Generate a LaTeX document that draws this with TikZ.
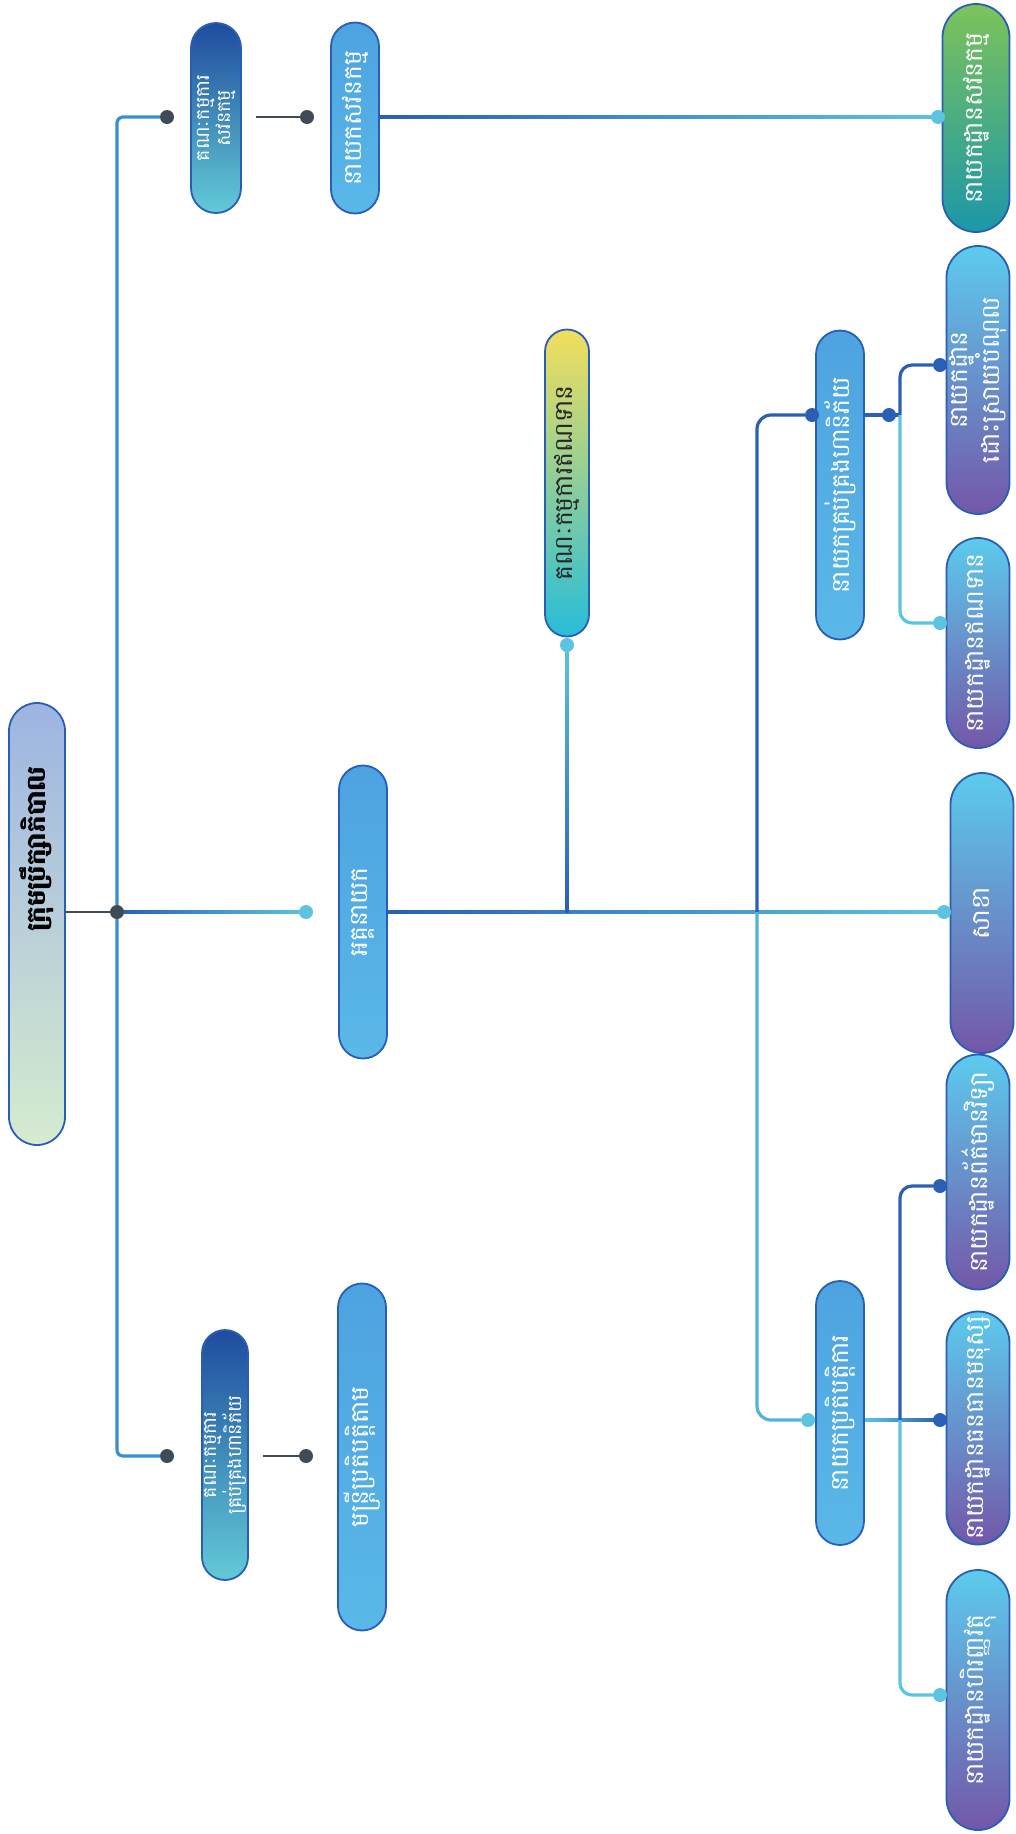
\documentclass[tikz,border=0pt]{standalone}
\usepackage{fontspec}
\usepackage{graphicx}
\newfontfamily\khmer[Script=Khmer]{Battambang}
\usetikzlibrary{positioning,backgrounds,calc}

\definecolor{rim}{HTML}{2A5DB5}
\definecolor{wiredark}{HTML}{2A5FB5}
\definecolor{wiremid}{HTML}{3A8FD4}
\definecolor{wirelight}{HTML}{5CC3E0}
\definecolor{wiregray}{HTML}{3F4B57}
\definecolor{rootTop}{HTML}{9DB4E2}
\definecolor{rootBot}{HTML}{D6EBCF}
\definecolor{comTop}{HTML}{1F4C9E}
\definecolor{comBot}{HTML}{62CBD6}
\definecolor{headTop}{HTML}{4DA3E0}
\definecolor{headBot}{HTML}{5AB8E8}
\definecolor{unitTop}{HTML}{5CCBEE}
\definecolor{unitBot}{HTML}{7357A8}
\definecolor{auditTop}{HTML}{7CC35A}
\definecolor{auditBot}{HTML}{1C97A9}
\definecolor{credTop}{HTML}{F3DE5B}
\definecolor{credBot}{HTML}{27BDD9}

\newcommand{\vlabel}[1]{\rotatebox{90}{#1}}
\newcommand{\vpair}[2]{\rotatebox{90}{\begin{tabular}{@{}c@{}}#1\\#2\end{tabular}}}
% straight wires with a colour run along them
\newcommand{\hwire}[4]{\shade[left color=#3, right color=#4]
  ($(#1)+(0,1.6)$) rectangle ($(#2)+(0,-1.6)$);}
\newcommand{\vwire}[4]{\shade[top color=#3, bottom color=#4]
  ($(#1)+(-1.6,0)$) rectangle ($(#2)+(1.6,0)$);}

\begin{document}
\begin{tikzpicture}[x=1pt,y=-1pt,
    pill/.style={draw=rim, line width=1.8pt, inner sep=0pt, text=white,
                 font=\khmer\fontsize{25}{28}\selectfont},
    chief/.style={pill, minimum width=56pt, rounded corners=28pt, text=black,
                  top color=rootTop, bottom color=rootBot,
                  font=\khmer\bfseries\fontsize{26}{28}\selectfont},
    board/.style={pill, minimum width=50pt, rounded corners=25pt,
                  top color=comTop, bottom color=comBot,
                  font=\khmer\fontsize{19}{20}\selectfont},
    head/.style={pill, minimum width=48pt, rounded corners=24pt,
                 top color=headTop, bottom color=headBot},
    unit/.style={pill, minimum width=63pt, rounded corners=31.5pt,
                 top color=unitTop, bottom color=unitBot},
    dot/.style={circle, fill=#1, inner sep=0pt, minimum size=14pt},
    wire/.style={line width=3.2pt, draw=#1},
    wire/.default=wiremid]
\useasboundingbox (0,0) rectangle (1015,1834);

% board and its two committees
\node[chief, minimum height=442pt] (root) at (37,924)
  {\vlabel{\hspace*{150pt}ក្រុមប្រឹក្សាភិបាល}};
\node[board, minimum height=190pt] (auditcom) at (216,118) {\vpair{គណៈកម្មការ}{សវនកម្ម}};
\node[board, minimum width=46pt, rounded corners=23pt, minimum height=250pt] (riskcom) at (225,1455)
  {\vpair{គណៈកម្មការ}{គ្រប់គ្រងហានិភ័យ}};
\node[head, minimum height=191pt] (auditdir) at (355,118) {\vlabel{នាយកសវនកម្ម}};
\node[head, minimum height=347pt] (comply) at (362,1457) {\vlabel{មន្ត្រីប្រតិបត្តិតាម}};
\node[unit, minimum width=67pt, rounded corners=33.5pt, minimum height=228pt,
      top color=auditTop, bottom color=auditBot] (auditdept) at (976,118)
  {\vlabel{នាយកដ្ឋានសវនកម្ម}};

% management
\node[head, minimum height=293pt] (ceo) at (363,912) {\vlabel{អគ្គនាយក}};
\node[pill, minimum width=44pt, rounded corners=22pt, minimum height=307pt, text=black!85,
      top color=credTop, bottom color=credBot] (credcom) at (567,483) {\vlabel{គណៈកម្មការឥណទាន}};
\node[unit, minimum height=280pt] (branch) at (982,913) {\vlabel{សាខា}};
\node[head, minimum height=309pt] (riskdir) at (840,485) {\vlabel{នាយកគ្រប់គ្រងហានិភ័យ}};
\node[head, minimum height=264pt] (opsdir) at (840,1413) {\vlabel{នាយកប្រតិបត្តិការ}};

% departments
\node[unit, minimum height=268pt] (debtdept) at (978,380) {\vpair{នាយកដ្ឋាន}{ដោះស្រាយបំណុល}};
\node[unit, minimum height=210pt] (creddept) at (978,643) {\vlabel{នាយកដ្ឋានឥណទាន}};
\node[unit, minimum height=235pt] (itdept) at (978,1172) {\vlabel{នាយកដ្ឋានព័ត៌មានវិទ្យា}};
\node[unit, minimum height=233pt] (hrdept) at (978,1428) {\vlabel{នាយកដ្ឋានធនធានមនុស្ស}};
\node[unit, minimum height=260pt] (findept) at (978,1700) {\vlabel{នាយកដ្ឋានហិរញ្ញវត្ថុ}};

% dots
\node[dot=wiregray] (hub) at (117,912) {};
\node[dot=wiregray] (acdot) at (167,117) {};
\node[dot=wiregray] (rcdot) at (167,1456) {};
\node[dot=wiregray] (addot) at (307,117) {};
\node[dot=wiregray] (codot) at (306,1456) {};
\node[dot=wirelight] (ceodot) at (306,912) {};
\node[dot=wirelight] (adeptdot) at (938,117) {};
\node[dot=wirelight] (brdot) at (944,912) {};
\node[dot=wirelight] (ccdot) at (567,645) {};
\node[dot=wiredark] (rddot) at (812,415) {};
\node[dot=wiredark] (rdrdot) at (889,415) {};
\node[dot=wiredark] (drdot) at (940,365) {};
\node[dot=wirelight] (cddot) at (940,623) {};
\node[dot=wirelight] (oddot) at (808,1420) {};
\node[dot=wiredark] (itdot) at (940,1186) {};
\node[dot=wiredark] (hrdot) at (940,1420) {};
\node[dot=wirelight] (findot) at (940,1695) {};
\coordinate (mid) at (757,912);
\coordinate (rbus) at (900,415);
\coordinate (obus) at (900,1420);

\begin{scope}[on background layer]
  \draw[wire=wiregray, line width=2.6pt] (root.east |- hub) -- (hub);
  \hwire{hub}{ceodot}{wiredark}{wirelight}
  \draw[wire, rounded corners=6pt] (hub) |- (acdot);
  \draw[wire, rounded corners=6pt] (hub) |- (rcdot);
  \draw[wire=wiregray, line width=2.6pt, shorten <=14pt] (auditcom.east |- addot) -- (addot);
  \draw[wire=wiregray, line width=2.6pt, shorten <=14pt] (riskcom.east |- codot) -- (codot);
  \hwire{auditdir.east |- adeptdot}{adeptdot}{wiredark}{wirelight}
  \hwire{ceo.east}{brdot}{wiredark}{wirelight}
  \vwire{ccdot}{ccdot |- mid}{wirelight}{wiredark}
  \draw[wire=wiredark, rounded corners=14pt] (mid) |- (rddot);
  \draw[wire=wirelight!70!wiremid, rounded corners=14pt] (mid) |- (oddot);
  \draw[wire=wiredark] (riskdir.east |- rdrdot) -- (rbus);
  \draw[wire=wiredark, rounded corners=12pt] (drdot) -| (rbus);
  \draw[wire=wirelight, rounded corners=12pt] (rbus) |- (cddot);
  \hwire{opsdir.east |- hrdot}{hrdot}{wirelight}{wiredark}
  \draw[wire=wiredark, rounded corners=12pt] (itdot) -| (obus);
  \draw[wire=wirelight, rounded corners=12pt] (obus) |- (findot);
\end{scope}
\end{tikzpicture}
\end{document}
